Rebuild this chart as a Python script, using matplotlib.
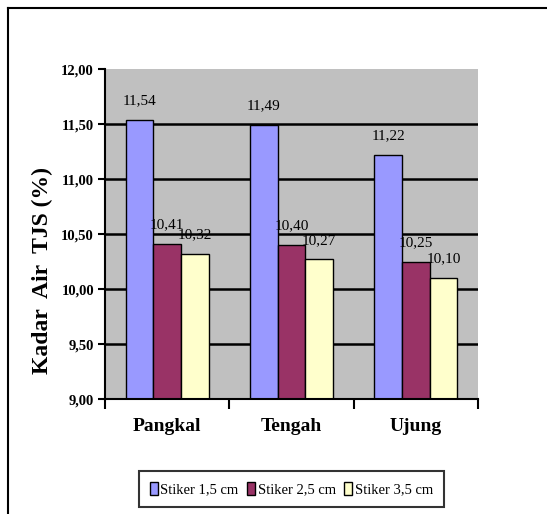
import matplotlib.pyplot as plt
import numpy as np

# data
kategori = ['Pangkal', 'Tengah', 'Ujung']
seri = ['Stiker 1,5 cm', 'Stiker 2,5 cm', 'Stiker 3,5 cm']
nilai_15 = [11.54, 11.49, 11.22]
nilai_25 = [10.41, 10.40, 10.25]
nilai_35 = [10.32, 10.27, 10.10]
y_ticks = [9.0, 9.5, 10.0, 10.5, 11.0, 11.5, 12.0]

warna = ['#9999FF', '#993366', '#FFFFCC']
huruf = 'Liberation Serif'

fig = plt.figure(figsize=(5.47, 5.14), dpi=100)
ax = fig.add_axes([0.192, 0.2237, 0.682, 0.642])
ax.set_facecolor('#C0C0C0')

# garis grid (tanpa 9,00 dan 12,00)
for t in y_ticks[1:-1]:
    ax.axhline(t, color='black', lw=1.8, zorder=1)

x = np.arange(len(kategori))
w = 0.222
semua = [nilai_15, nilai_25, nilai_35]
for i, vals in enumerate(semua):
    pos = x + (i - 1) * w
    ax.bar(pos, np.array(vals) - 9.0, bottom=9.0, width=w, color=warna[i],
           edgecolor='black', lw=1.0, label=seri[i], zorder=2)
    for p, v in zip(pos, vals):
        ax.annotate(f'{v:.2f}'.replace('.', ','), (p, v), xytext=(0, 9),
                    textcoords='offset points', ha='center', va='bottom',
                    fontsize=11, family=huruf, zorder=3)

ax.set_xlim(-0.5, 2.5)
ax.set_ylim(9.0, 12.0)
ax.set_yticks(y_ticks)
ax.set_yticklabels([f'{t:.2f}'.replace('.', ',') for t in y_ticks],
                   fontsize=10.5, family=huruf, fontweight='bold')
ax.set_xticks(x)
ax.set_xticklabels(kategori, fontsize=14, family=huruf, fontweight='bold')
ax.set_xticks(np.arange(-0.5, 3.0, 1.0), minor=True)
ax.tick_params(axis='x', which='major', length=0, pad=14)
ax.tick_params(axis='x', which='minor', length=7, width=1.5, direction='out')
ax.tick_params(axis='y', length=5, width=1.5, direction='out', pad=3)

for s in ['top', 'right']:
    ax.spines[s].set_visible(False)
for s in ['left', 'bottom']:
    ax.spines[s].set_linewidth(1.5)

ax.set_ylabel('Kadar  Air  TJS (%)', fontsize=17, family=huruf,
              fontweight='bold')
ax.yaxis.set_label_coords(-0.14, 0.39)

leg = ax.legend(loc='upper center', bbox_to_anchor=(0.5, -0.195), ncol=3,
                frameon=True, fancybox=False, edgecolor='black',
                prop={'family': huruf, 'size': 10.5}, handlelength=0.55,
                handleheight=1.0, handletextpad=0.15, columnspacing=0.6,
                borderpad=0.75)
leg.get_frame().set_linewidth(1.5)

# bingkai luar
fig.add_artist(plt.Line2D([8 / 547, 8 / 547], [0, 1 - 8 / 514], color='black',
                          lw=1.5, transform=fig.transFigure))
fig.add_artist(plt.Line2D([8 / 547, 1], [1 - 8 / 514, 1 - 8 / 514],
                          color='black', lw=1.5, transform=fig.transFigure))

fig.savefig('out.png', dpi=100)
